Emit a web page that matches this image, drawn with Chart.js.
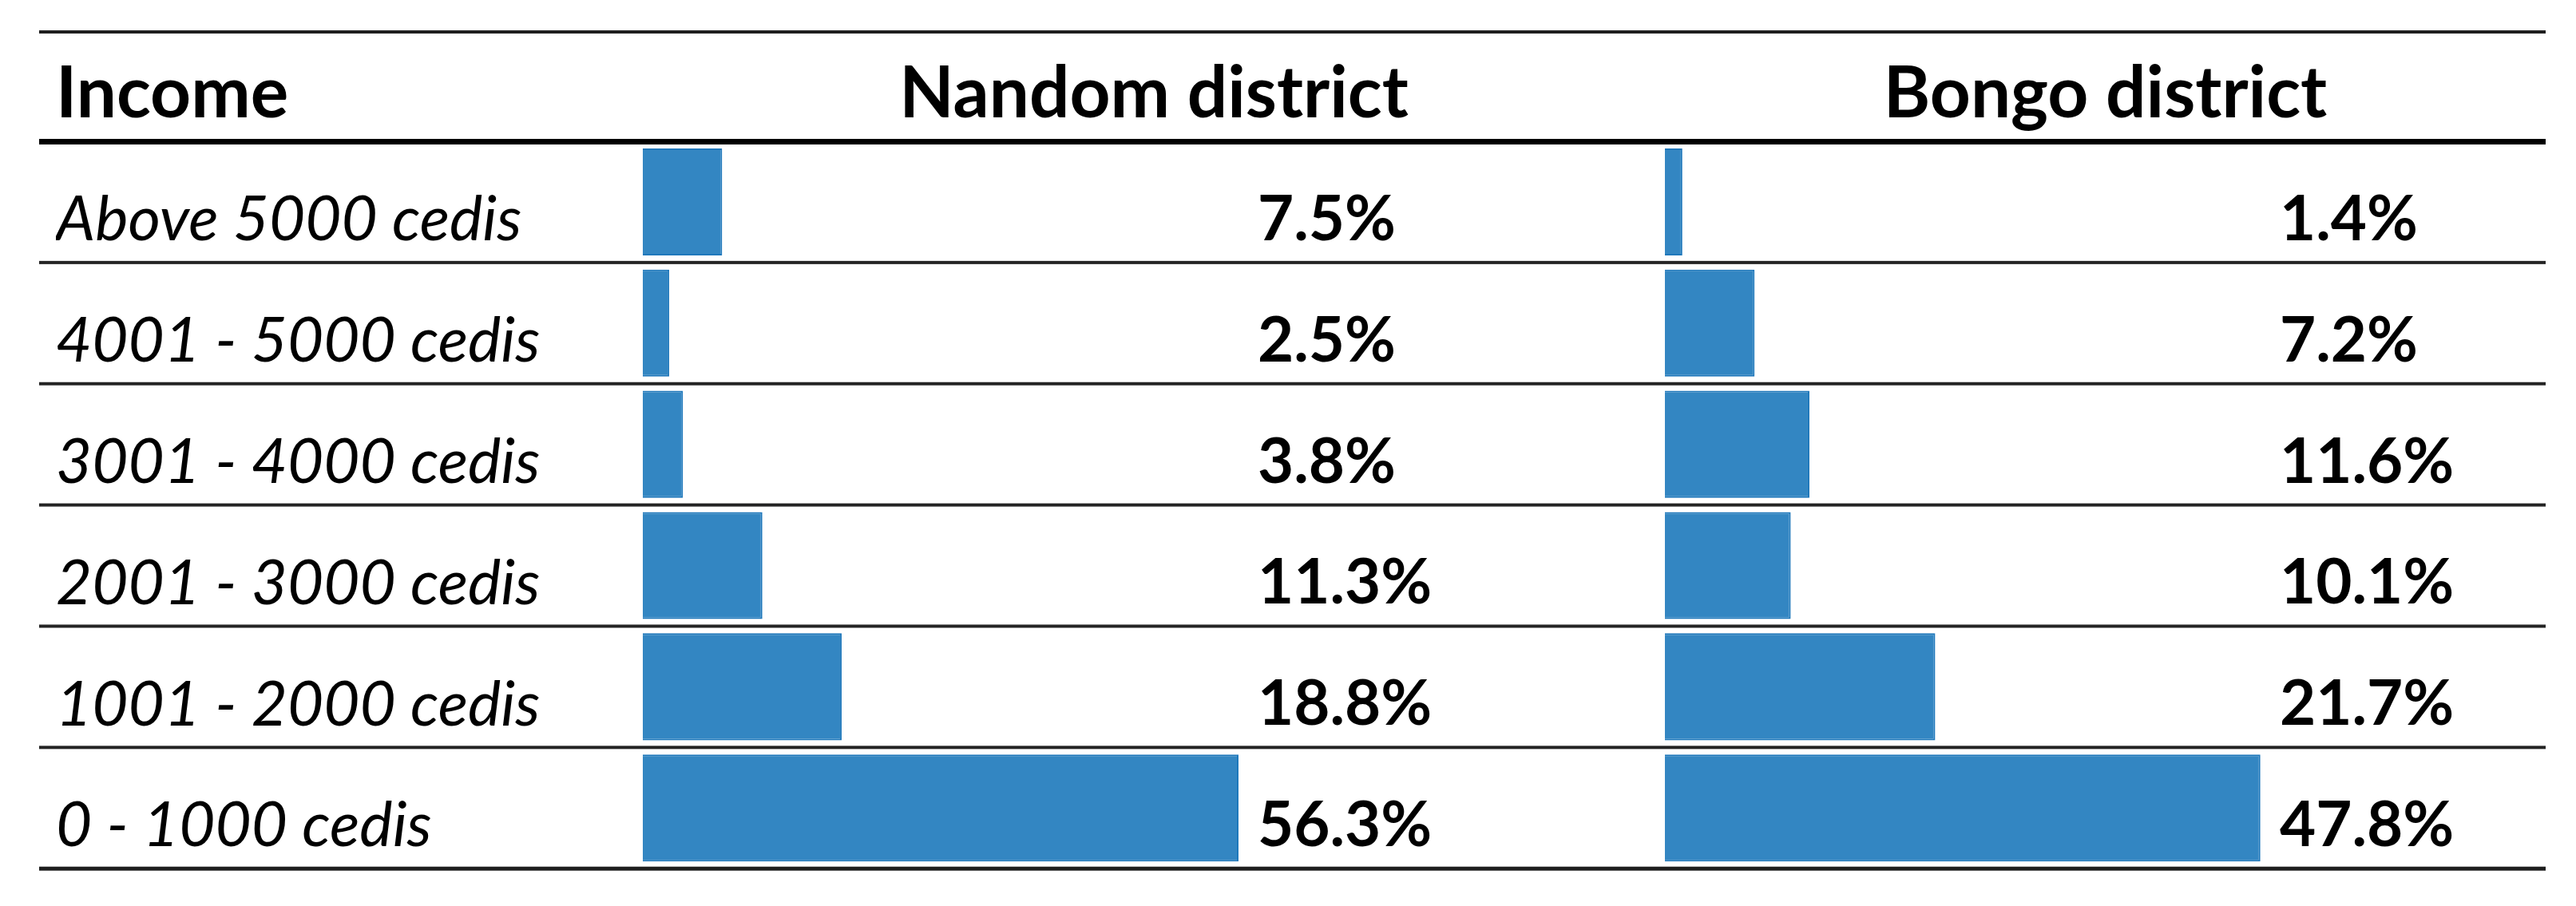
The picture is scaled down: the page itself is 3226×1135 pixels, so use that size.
<!DOCTYPE html>
<html>
<head>
<meta charset="utf-8">
<title>Income by district</title>
<script src="https://cdn.jsdelivr.net/npm/chart.js@4.4.1/dist/chart.umd.min.js"></script>
<style>
  html, body { margin: 0; padding: 0; background: #fff; }
  #canvas { display: block; }
</style>
</head>
<body>
<canvas id="canvas" width="3226" height="1135"></canvas>
<script>
const headerLabel = 'Income';
const districts = ['Nandom district', 'Bongo district'];
const incomeGroups = [
  'Above 5000 cedis',
  '4001 - 5000 cedis',
  '3001 - 4000 cedis',
  '2001 - 3000 cedis',
  '1001 - 2000 cedis',
  '0 - 1000 cedis'
];
const nandom = [7.5, 2.5, 3.8, 11.3, 18.8, 56.3];
const bongo = [1.4, 7.2, 11.6, 10.1, 21.7, 47.8];

const barFill = '#3386c2';
const barEdge = '#1f78bb';

// table rules + header + percentage column, drawn from the chart's scales
const tablePlugin = {
  id: 'tablePlugin',
  beforeDatasetsDraw(chart) {
    const {ctx, chartArea} = chart;
    const rowH = (chartArea.bottom - chartArea.top) / incomeGroups.length;
    const left = 49, right = chartArea.right;
    function rule(y, w, color) {
      ctx.fillStyle = color;
      ctx.fillRect(left, y - w / 2, right - left, w);
    }
    ctx.save();
    rule(40, 4, '#1e1e1e');
    rule(chartArea.top + 0.5, 7, '#000');
    for (let i = 1; i < incomeGroups.length; i++) {
      rule(chartArea.top + i * rowH, 4, '#242424');
    }
    rule(chartArea.bottom, 5, '#1e1e1e');
    ctx.restore();
  },
  afterDatasetsDraw(chart) {
    const {ctx, chartArea, scales} = chart;
    const rowH = (chartArea.bottom - chartArea.top) / incomeGroups.length;
    ctx.save();
    ctx.fillStyle = '#000';
    ctx.textBaseline = 'alphabetic';

    // header row
    ctx.font = 'bold 89px Lato';
    ctx.textAlign = 'left';
    ctx.fillText(headerLabel, 70, 147);
    ctx.textAlign = 'center';
    chart.data.datasets.forEach((ds) => {
      const sc = scales[ds.xAxisID];
      ctx.fillText(ds.label, (sc.left + sc.right) / 2, 147);
    });

    // percentage values
    ctx.font = 'bold 78px Lato';
    ctx.textAlign = 'left';
    chart.data.datasets.forEach((ds) => {
      const sc = scales[ds.xAxisID];
      ds.data.forEach((v, i) => {
        const rowBottom = scales.y.getPixelForValue(i) + rowH / 2;
        ctx.fillText(v.toFixed(1) + '%', sc.left + 770, rowBottom - 28);
      });
    });
    ctx.restore();
  }
};

const data = {
  labels: incomeGroups,
  datasets: [
    {
      label: districts[0],
      data: nandom,
      xAxisID: 'x1',
      backgroundColor: barFill,
      borderColor: barEdge,
      borderWidth: 2,
      grouped: false,
      barPercentage: 0.883,
      categoryPercentage: 1
    },
    {
      label: districts[1],
      data: bongo,
      xAxisID: 'x2',
      backgroundColor: barFill,
      borderColor: barEdge,
      borderWidth: 2,
      grouped: false,
      barPercentage: 0.883,
      categoryPercentage: 1
    }
  ]
};

const config = {
  type: 'bar',
  data: data,
  options: {
    indexAxis: 'y',
    responsive: false,
    animation: false,
    devicePixelRatio: 1,
    layout: {
      padding: { left: 70, top: 177, right: 38, bottom: 41 }
    },
    plugins: {
      legend: { display: false },
      tooltip: { enabled: false }
    },
    scales: {
      y: {
        position: 'left',
        grid: { display: false },
        border: { display: false },
        ticks: {
          color: '#000',
          font: { family: 'Lato', style: 'italic', size: 78 },
          crossAlign: 'far',
          padding: 0,
          labelOffset: 23,
          autoSkip: false
        },
        afterFit(scale) {
          scale.width = 735;
        }
      },
      // the two district columns sit side by side as stacked x axes
      x1: {
        type: 'linear',
        position: 'bottom',
        stack: 'cols',
        stackWeight: 1280,
        min: 0,
        max: 96.6,
        display: false
      },
      x2: {
        type: 'linear',
        position: 'bottom',
        stack: 'cols',
        stackWeight: 1103,
        min: 0,
        max: 70.7,
        display: false
      }
    }
  },
  plugins: [tablePlugin]
};

const ctx = document.getElementById('canvas');
let incomeChart = new Chart(ctx, config);
</script>
</body>
</html>
